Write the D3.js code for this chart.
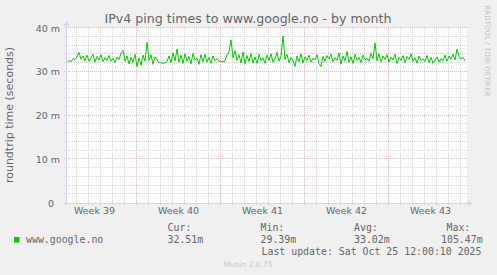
<!DOCTYPE html>
<html lang="en">

<head>
    <meta charset="utf-8">
    <script src='https://d3js.org/d3.v7.min.js'></script>
    <style>
        body { margin: 0; background: #f0f0f0; }
        text { fill: #666666; }
    </style>
</head>

<body>
    <script>
            // ping values in ms, one every 4 hours from the start of the window
            var startTime = new Date(Date.UTC(2025, 8, 22, 6, 0));
            var endTime = new Date(Date.UTC(2025, 9, 25, 14, 0));
            var stepHours = 4;

            var pingValues = [
                32.1, 32.6, 32.3, 33.0, 32.8, 33.4, 34.4, 32.9, 33.6, 32.5,
                33.8, 32.4, 33.1, 34.0, 32.2, 33.5, 32.7, 33.9, 32.3, 33.2,
                32.6, 33.7, 32.4, 33.0, 32.1, 33.4, 32.8, 34.2, 34.9, 32.5,
                33.6, 31.8, 33.3, 32.2, 34.0, 31.2, 33.1, 31.5, 33.8, 32.4,
                36.7, 32.6, 33.9, 31.7, 33.4, 32.8, 32.0, 32.1, 31.9, 32.0,
                32.3, 33.6, 32.1, 34.3, 32.5, 35.2, 32.2, 33.8, 31.9, 34.1,
                32.4, 33.5, 31.8, 34.2, 32.6, 33.1, 31.7, 33.9, 32.3, 34.0,
                32.2, 33.3, 31.9, 33.6, 32.5, 33.0, 32.4, 32.4, 32.3, 32.4,
                33.9, 34.6, 37.3, 33.2, 34.8, 32.6, 33.9, 32.0, 34.5, 31.8,
                33.7, 32.3, 34.2, 32.0, 33.4, 31.9, 34.0, 32.5, 33.2, 31.9,
                33.8, 32.6, 34.1, 32.2, 33.0, 34.4, 32.4, 33.5, 38.2, 32.8,
                34.0, 32.1, 33.3, 32.5, 31.2, 33.6, 32.3, 34.1, 32.0, 33.4,
                32.6, 33.8, 32.2, 33.1, 32.7, 33.9, 31.9, 31.2, 33.5, 32.4,
                33.7, 32.9, 34.0, 32.3, 33.2, 32.6, 34.3, 31.8, 33.6, 32.5,
                34.6, 32.2, 33.4, 31.9, 34.0, 32.6, 33.3, 32.1, 33.8, 32.7,
                33.1, 32.4, 34.2, 33.0, 36.6, 32.5, 34.1, 32.3, 33.6, 32.8,
                33.9, 32.2, 33.4, 32.7, 34.0, 31.9, 33.3, 32.6, 33.7, 32.1,
                33.5, 32.8, 34.1, 32.4, 33.2, 32.0, 33.6, 32.5, 33.0, 32.3,
                33.7, 32.1, 33.3, 31.9, 32.6, 33.4, 32.2, 33.0, 32.5, 33.8,
                32.4, 33.6, 32.9, 34.0, 32.7, 35.2, 33.5, 32.9, 33.3, 32.5
            ];

            var yTicks = [0, 10, 20, 30, 40];
            var weekLabels = ["Week 39", "Week 40", "Week 41", "Week 42", "Week 43"];

            var legendNames = ["Cur:", "Min:", "Avg:", "Max:"];
            var legendValues = ["32.51m", "29.39m", "33.02m", "105.47m"];
            var seriesName = "www.google.no";
            var lastUpdate = "Last update: Sat Oct 25 12:00:10 2025";

            var data = pingValues.map(function(v, i) {
                return { t: d3.utcHour.offset(startTime, i * stepHours), v: v };
            });

            var width = 497, height = 275;
            var plotLeft = 67, plotRight = 467, plotTop = 28, plotBottom = 203;

            var xScale = d3.scaleUtc()
                        .domain([startTime, endTime])
                        .range([plotLeft, plotRight]);
            var yScale = d3.scaleLinear()
                        .domain([0, 40])
                        .range([plotBottom, plotTop]);

            const svg = d3.select("body")
                .append("svg")
                .attr('width', width)
                .attr('height', height)
                .style('display', 'block')
                .style('font-family', 'DejaVu Sans');

            svg.append('rect')
                .attr('width', width).attr('height', height)
                .attr('fill', '#f0f0f0');

            svg.append('rect')
                .attr('x', plotLeft).attr('y', plotTop)
                .attr('width', plotRight - plotLeft).attr('height', plotBottom - plotTop)
                .attr('fill', '#ffffff');

            // grid
            var crisp = function(v) { return Math.round(v) + 0.5; };
            var minorY = d3.range(0, 41, 2).filter(function(d) { return d % 10 !== 0; });
            var days = d3.utcDay.range(startTime, endTime).filter(function(d) { return d.getUTCDay() !== 0; });
            var sundays = d3.utcSunday.range(startTime, endTime);

            var grid = svg.append('g').attr('fill', 'none').attr('stroke-width', 1);

            grid.selectAll('.hminor').data(minorY).enter().append('line')
                .attr('x1', plotLeft - 3).attr('x2', plotRight)
                .attr('y1', function(d) { return crisp(yScale(d)) - 1; })
                .attr('y2', function(d) { return crisp(yScale(d)) - 1; })
                .attr('stroke', '#d4d4d4').attr('stroke-dasharray', '1,1');

            grid.selectAll('.vminor').data(days).enter().append('line')
                .attr('y1', plotTop).attr('y2', plotBottom + 2)
                .attr('x1', function(d) { return crisp(xScale(d)); })
                .attr('x2', function(d) { return crisp(xScale(d)); })
                .attr('stroke', '#d4d4d4').attr('stroke-dasharray', '1,1');

            grid.selectAll('.hmajor').data(yTicks.filter(function(d) { return d > 0; })).enter().append('line')
                .attr('x1', plotLeft - 3).attr('x2', plotRight)
                .attr('y1', function(d) { return crisp(yScale(d)) - 1; })
                .attr('y2', function(d) { return crisp(yScale(d)) - 1; })
                .attr('stroke', '#ebb9b9').attr('stroke-dasharray', '1,1');

            grid.selectAll('.vmajor').data(sundays).enter().append('line')
                .attr('y1', plotTop).attr('y2', plotBottom + 3)
                .attr('x1', function(d) { return crisp(xScale(d)); })
                .attr('x2', function(d) { return crisp(xScale(d)); })
                .attr('stroke', '#ebb9b9').attr('stroke-dasharray', '1,1');

            // series
            svg.append("path")
                .datum(data)
                .attr("fill", "none")
                .attr("stroke", "#00cc00")
                .attr("stroke-width", 1)
                .attr("d", d3.line()
                    .x(function(d) { return xScale(d.t); })
                    .y(function(d) { return yScale(d.v); })
                );

            // axes
            var axisColor = '#cfd6f8';
            svg.append('line')
                .attr('x1', plotLeft - 4).attr('x2', plotRight + 2)
                .attr('y1', plotBottom + 0.5).attr('y2', plotBottom + 0.5)
                .attr('stroke', axisColor);
            svg.append('line')
                .attr('x1', plotLeft - 0.5).attr('x2', plotLeft - 0.5)
                .attr('y1', plotBottom + 3).attr('y2', plotTop - 3)
                .attr('stroke', axisColor);
            svg.append('path')
                .attr('d', 'M' + (plotRight + 6) + ',' + (plotBottom + 0.5) + 'l-5,-3v6z')
                .attr('fill', axisColor);
            svg.append('path')
                .attr('d', 'M' + (plotLeft - 0.5) + ',' + (plotTop - 7) + 'l-3,5h6z')
                .attr('fill', axisColor);

            // week labels sit in the middle of each Sunday-to-Sunday span
            var weekCenters = d3.utcSunday.range(d3.utcDay.offset(startTime, -7), endTime)
                .map(function(d) { return d3.utcHour.offset(d, 84); })
                .filter(function(d) { return d >= startTime && d <= endTime; });

            var xAxis = svg.append("g")
                .attr("transform", "translate(0," + plotBottom + ")")
                .call(d3.axisBottom(xScale)
                    .tickValues(weekCenters)
                    .tickSize(0)
                    .tickPadding(4)
                    .tickFormat(function(d, i) { return weekLabels[i]; }));
            xAxis.select('.domain').remove();
            xAxis.selectAll('text')
                .attr('fill', '#666666')
                .style('font-family', 'DejaVu Sans')
                .style('font-size', '9.5px');

            var yAxis = svg.append("g")
                .attr("transform", "translate(" + plotLeft + ",0)")
                .call(d3.axisLeft(yScale)
                    .tickValues(yTicks)
                    .tickSize(0)
                    .tickPadding(7)
                    .tickFormat(function(d) { return d === 0 ? "0" : d + " m"; }));
            yAxis.select('.domain').remove();
            yAxis.selectAll('text')
                .attr('fill', '#666666')
                .attr('dx', function(d) { return d === 0 ? -6 : 0; })
                .style('font-family', 'DejaVu Sans')
                .style('font-size', '9.5px');

            // titles
            svg.append('text')
                .attr('x', 248).attr('y', 23)
                .attr('text-anchor', 'middle')
                .style('font-size', '12.6px')
                .text('IPv4 ping times to www.google.no - by month');

            svg.append('text')
                .attr('transform', 'translate(13,115) rotate(-90)')
                .attr('text-anchor', 'middle')
                .style('font-size', '11px')
                .text('roundtrip time (seconds)');

            svg.append('text')
                .attr('transform', 'translate(484.5,51) rotate(90)')
                .attr('text-anchor', 'middle')
                .style('font-size', '7.1px')
                .style('fill', '#c4c4c4')
                .text('RRDTOOL / TOBI OETIKER');

            // legend
            var mono = svg.append('g')
                .style('font-family', 'DejaVu Sans Mono')
                .style('font-size', '9.9px');

            var colX = [167.5, 260.5, 354, 446.5];
            var valX = [167.5, 260.5, 354, 441];

            mono.selectAll('.lname').data(legendNames).enter().append('text')
                .attr('x', function(d, i) { return colX[i]; })
                .attr('y', 231)
                .text(function(d) { return d; });

            mono.selectAll('.lval').data(legendValues).enter().append('text')
                .attr('x', function(d, i) { return valX[i]; })
                .attr('y', 243)
                .text(function(d) { return d; });

            svg.append('rect')
                .attr('x', 14).attr('y', 237)
                .attr('width', 5.5).attr('height', 5.5)
                .attr('fill', '#00cc00');

            mono.append('text')
                .attr('x', 26).attr('y', 243)
                .text(seriesName);

            mono.append('text')
                .attr('x', 261.5).attr('y', 255)
                .text(lastUpdate);

            svg.append('text')
                .attr('x', 248).attr('y', 266.5)
                .attr('text-anchor', 'middle')
                .style('font-size', '7.5px')
                .style('fill', '#c8c8c8')
                .text('Munin 2.0.75');

    </script>
</body>

</html>
